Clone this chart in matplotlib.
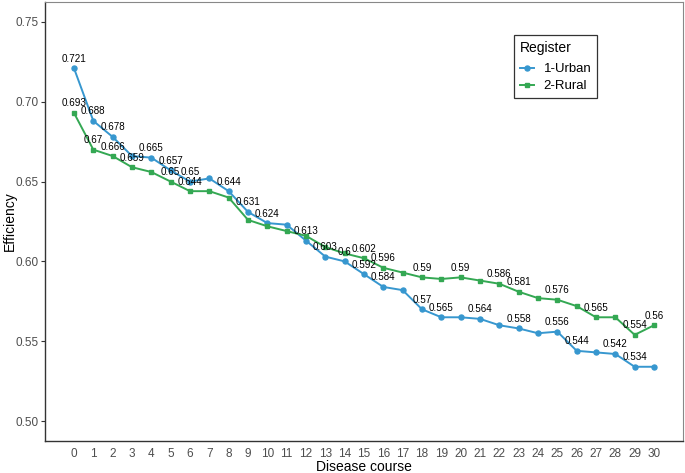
import matplotlib
matplotlib.use("Agg")
import matplotlib.pyplot as plt

# ---- data ----
course = list(range(31))
urban = [0.721, 0.688, 0.678, 0.666, 0.665, 0.657, 0.650, 0.652, 0.644, 0.631,
         0.624, 0.623, 0.613, 0.603, 0.600, 0.592, 0.584, 0.582, 0.570, 0.565,
         0.565, 0.564, 0.560, 0.558, 0.555, 0.556, 0.544, 0.543, 0.542, 0.534,
         0.534]
rural = [0.693, 0.670, 0.666, 0.659, 0.656, 0.650, 0.644, 0.644, 0.640, 0.626,
         0.622, 0.619, 0.616, 0.609, 0.605, 0.602, 0.596, 0.593, 0.590, 0.589,
         0.590, 0.588, 0.586, 0.581, 0.577, 0.576, 0.572, 0.565, 0.565, 0.554,
         0.560]
# points whose value label is printed (others were suppressed as overlapping)
urban_labeled = [0, 1, 2, 4, 5, 6, 8, 9, 10, 12, 13, 14, 15, 16, 18, 19, 21, 23,
                 25, 26, 28, 29]
rural_labeled = [0, 1, 2, 3, 5, 6, 15, 16, 18, 20, 22, 23, 25, 27, 29, 30]
series_names = ["1-Urban", "2-Rural"]
y_ticks = [0.50, 0.55, 0.60, 0.65, 0.70, 0.75]
legend_title = "Register"
x_title = "Disease course"
y_title = "Efficiency"

blue = "#3797CF"
green = "#34A853"

plt.rcParams['font.family'] = ['Liberation Sans', 'DejaVu Sans']
DPI = 100
fig = plt.figure(figsize=(6.85, 4.73), dpi=DPI)
ax = fig.add_axes([45 / 685, 1 - 441 / 473, (683 - 45) / 685, (441 - 2) / 473])

ax.plot(course, urban, color=blue, lw=1.4, marker='o', ms=3.6,
        label=series_names[0], zorder=3)
ax.plot(course, rural, color=green, lw=1.4, marker='s', ms=3.3,
        label=series_names[1], zorder=3)

ax.set_xlim(-1.5, 31.5)
ax.set_ylim(0.4875, 0.7625)
ax.set_xticks(course)
ax.set_xticklabels([str(c) for c in course])
ax.set_yticks(y_ticks)
ax.set_yticklabels([f"{t:.2f}" for t in y_ticks])
ax.tick_params(axis='y', direction='out', length=3, width=0.8, color='#333333',
               labelsize=8.5, labelcolor='#4D4D4D', pad=1.5)
ax.tick_params(axis='x', length=0, labelsize=8.5, labelcolor='#4D4D4D', pad=5)
for s in ['left', 'bottom']:
    ax.spines[s].set_color('#333333')
    ax.spines[s].set_linewidth(1.0)
for s in ['top', 'right']:
    ax.spines[s].set_color('#888888')
    ax.spines[s].set_linewidth(0.8)
ax.set_xlabel(x_title, fontsize=10, va='center')
ax.set_ylabel(y_title, fontsize=10, va='center')
ax.xaxis.set_label_coords(0.5, (441 - 467) / 439)
ax.yaxis.set_label_coords((10 - 45) / 638, 0.5)

# ---- point labels ----
FS = 7.1
off_pt = 4.7
for vals, shown in ((urban, urban_labeled), (rural, rural_labeled)):
    for i in shown:
        v = vals[i]
        ax.annotate(f"{round(v, 3):g}", (course[i], v), xytext=(0, off_pt),
                    textcoords='offset points', ha='center', va='baseline',
                    fontsize=FS, color='black', zorder=4)

leg = ax.legend(title=legend_title, loc='upper left', bbox_to_anchor=(0.735, 0.925),
                borderaxespad=0, frameon=True, fancybox=False, edgecolor='black',
                fontsize=9.5, title_fontsize=10, handlelength=1.05,
                handletextpad=0.75, borderpad=0.45, labelspacing=0.35,
                alignment='left')
leg.get_frame().set_linewidth(0.9)
leg._legend_box.sep = 6

fig.savefig("out.png", dpi=DPI)
